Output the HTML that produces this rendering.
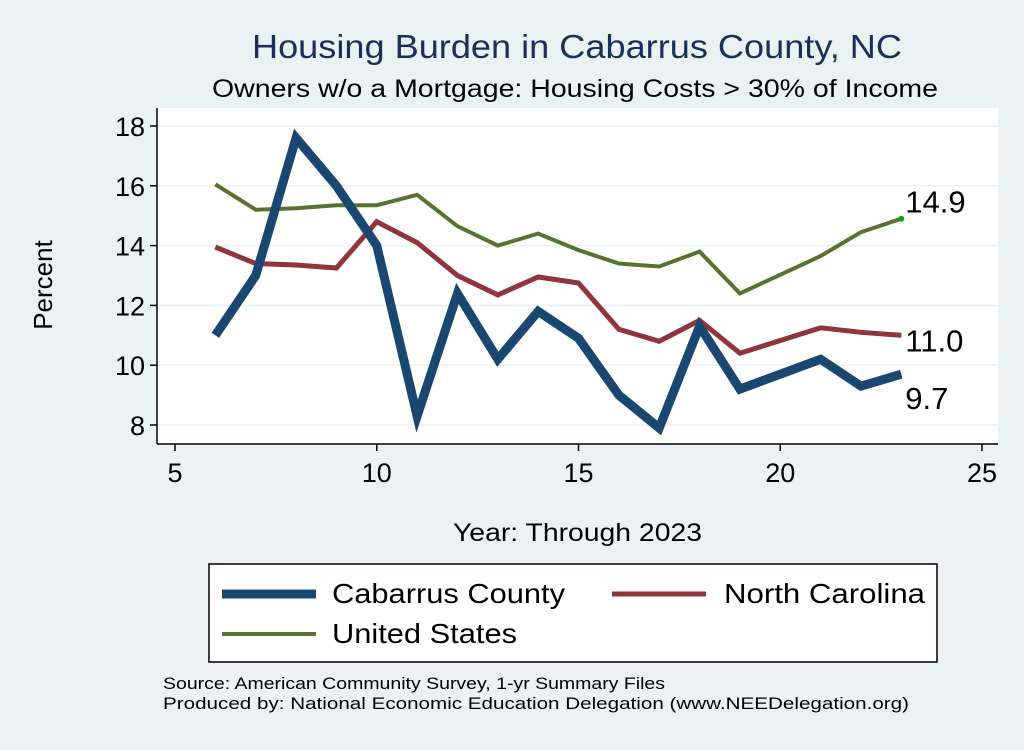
<!DOCTYPE html>
<html><head><meta charset="utf-8"><style>
body{margin:0;background:#eaf2f3;width:1024px;height:745px;overflow:hidden;font-family:"Liberation Sans",sans-serif}
</style></head><body>
<svg id="chart" width="1024" height="745" xmlns="http://www.w3.org/2000/svg" font-family="Liberation Sans, sans-serif">
<rect x="0" y="0" width="1024" height="745" fill="#eaf2f3"/>
<text x="252" y="58" textLength="650" lengthAdjust="spacingAndGlyphs" font-size="33" fill="#1a2f5a">Housing Burden in Cabarrus County, NC</text>
<text x="212" y="97" textLength="726" lengthAdjust="spacingAndGlyphs" font-size="25" fill="#000">Owners w/o a Mortgage: Housing Costs &gt; 30% of Income</text>
<rect x="157" y="108" width="841" height="336" fill="#fff"/>
<g id="grid"></g><g id="axes"></g><g id="series"></g>
<text transform="translate(52,285) rotate(-90)" text-anchor="middle" font-size="26">Percent</text>
<text x="453" y="541" textLength="249" lengthAdjust="spacingAndGlyphs" font-size="25">Year: Through 2023</text>
<g>
<rect x="209" y="564" width="728" height="98" fill="#fff" stroke="#000" stroke-width="1.5"/>
<line x1="222" y1="594" x2="316" y2="594" stroke="#1a476f" stroke-width="9"/>
<text x="332" y="603" font-size="28" textLength="233" lengthAdjust="spacingAndGlyphs">Cabarrus County</text>
<line x1="612" y1="594" x2="706" y2="594" stroke="#90353b" stroke-width="5"/>
<text x="724" y="603" font-size="28" textLength="201" lengthAdjust="spacingAndGlyphs">North Carolina</text>
<line x1="222" y1="634" x2="316" y2="634" stroke="#55752f" stroke-width="4"/>
<text x="332" y="643" font-size="28" textLength="185" lengthAdjust="spacingAndGlyphs">United States</text>
</g>
<text x="163" y="689" font-size="17" textLength="502" lengthAdjust="spacingAndGlyphs">Source: American Community Survey, 1-yr Summary Files</text>
<text x="163" y="709" font-size="17" textLength="746" lengthAdjust="spacingAndGlyphs">Produced by: National Economic Education Delegation (www.NEEDelegation.org)</text>
</svg>
<script>
const years=[6,7,8,9,10,11,12,13,14,15,16,17,18,19,21,22,23];
const cabarrus=[11.0,13.0,17.6,16.0,14.0,8.3,12.4,10.2,11.8,10.9,9.0,7.9,11.3,9.2,10.2,9.3,9.7];
const northCarolina=[13.95,13.4,13.35,13.25,14.8,14.1,13.0,12.35,12.95,12.75,11.2,10.8,11.5,10.4,11.25,11.1,11.0];
const unitedStates=[16.05,15.2,15.25,15.35,15.35,15.7,14.65,14.0,14.4,13.85,13.4,13.3,13.8,12.4,13.65,14.45,14.9];
const xTicks=[5,10,15,20,25];
const yTicks=[8,10,12,14,16,18];
const NS="http://www.w3.org/2000/svg";
const xs=v=>175+(v-5)*(982-175)/20;
const ys=v=>425-(v-8)*(425-126)/10;
function mk(t,a,p){const e=document.createElementNS(NS,t);for(const k in a)e.setAttribute(k,a[k]);p.appendChild(e);return e;}
const grid=document.getElementById('grid'),axes=document.getElementById('axes'),ser=document.getElementById('series');
yTicks.forEach(t=>{
 const g=mk('line',{x1:157,x2:998,y1:ys(t),y2:ys(t),stroke:'#eaf2f3','stroke-width':1.5},grid);
 
 
 const tk=mk('line',{x1:150,x2:157,y1:ys(t),y2:ys(t),stroke:'#000','stroke-width':1.5},axes);
 
 
 const l=mk('text',{x:145,y:ys(t)+10,'text-anchor':'end','font-size':27},axes);l.textContent=t;
 
 
});
mk('line',{x1:157,x2:157,y1:108,y2:444,stroke:'#000','stroke-width':1.5},axes);
mk('line',{x1:157,x2:998,y1:444,y2:444,stroke:'#000','stroke-width':1.5},axes);
xTicks.forEach(t=>{
 const tk=mk('line',{x1:xs(t),x2:xs(t),y1:444,y2:451,stroke:'#000','stroke-width':1.5},axes);
 
 
 const l=mk('text',{x:xs(t),y:482,'text-anchor':'middle','font-size':27},axes);l.textContent=t;
 
 
});
function line(vals,color,w,name){
 const d=vals.map((v,i)=>(i?'L':'M')+xs(years[i])+','+ys(v)).join(' ');
 const p=mk('path',{d:d,fill:'none',stroke:color,'stroke-width':w,'stroke-linejoin':'miter'},ser);
 
 
}
line(unitedStates,'#55752f',4,'us-line');
line(northCarolina,'#90353b',5,'nc-line');
line(cabarrus,'#1a476f',9,'cabarrus-line');
const last=years.length-1;
mk('circle',{cx:xs(years[last]),cy:ys(unitedStates[last]),r:3,fill:'#139a13'},ser);
function lab(v,dy,name){const t=mk('text',{x:xs(years[last])+4,y:ys(v)+dy,'font-size':31},ser);t.textContent=v.toFixed(1);
 
 }
lab(unitedStates[last],-6,'us-end-label');
lab(northCarolina[last],16,'nc-end-label');
lab(cabarrus[last],35,'cabarrus-end-label');
</script>
</body></html>
